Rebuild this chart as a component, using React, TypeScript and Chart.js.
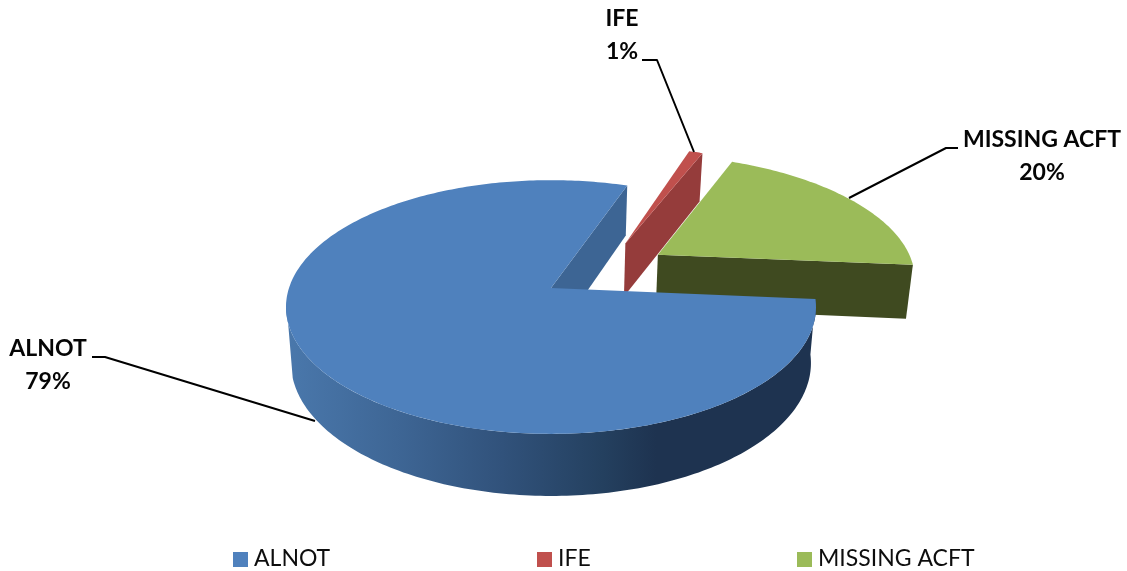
import React, { useEffect, useRef } from "react";
import { Chart, registerables } from "chart.js";

Chart.register(...registerables);

const categories = ["ALNOT", "IFE", "MISSING ACFT"];
const shares = [79, 1, 20];
const topColors = ["#4f81bd", "#c0504d", "#9bbb59"];
const wallColors = ["#3d6594", "#953c3b", "#3f4a20"];
const startRotation = 95;

// Perspective model of the tilted pie
const CX = 551;
const K = 0.15;
const TOP = { cy: 288, a: 262, b: 124 };
const BOTTOM = { cy: 343, a: 257, b: 130 };
// Explosion of each slice in unit-disc coordinates
const EXPLODE: [number, number][] = [[0, 0], [0.3, -0.379], [0.425, -0.28]];

type Plane = typeof TOP;
const project = (p: Plane, u: number, v: number): [number, number] => {
  const s = 1 / (1 - K * v);
  return [CX + p.a * u * s, p.cy + p.b * v * s];
};

const FONT = "Lato, 'Open Sans', sans-serif";
const LABELS = [
  { x: 48, y: 349, line: [[92, 357], [105, 357], [315, 421]] },
  { x: 622, y: 19, line: [[642, 60], [657, 60], [694, 152]] },
  { x: 1042, y: 140, line: [[958, 148], [946, 148], [849, 198]] },
];
const LEGEND_X = [233, 537, 797];

const pie3d = {
  id: "pie3d",
  beforeDatasetsDraw(chart: any) {
    const ctx: CanvasRenderingContext2D = chart.ctx;
    const arcs = chart.getDatasetMeta(0).data;
    const pt = (plane: Plane, i: number, a: number): [number, number] => {
      const [ox, oy] = EXPLODE[i];
      return project(plane, Math.cos(a) + ox, Math.sin(a) + oy);
    };
    const poly = (pts: [number, number][], color: string | CanvasGradient) => {
      ctx.beginPath();
      pts.forEach((p, n) => (n ? ctx.lineTo(p[0], p[1]) : ctx.moveTo(p[0], p[1])));
      ctx.closePath();
      ctx.fillStyle = color;
      ctx.fill();
    };
    const apex = (plane: Plane, i: number) => {
      const [ox, oy] = EXPLODE[i];
      return project(plane, ox, oy);
    };
    const topFace = (i: number) => {
      const { startAngle, endAngle } = arcs[i];
      const pts: [number, number][] = [apex(TOP, i)];
      const n = Math.max(8, Math.ceil((endAngle - startAngle) * 60));
      for (let k = 0; k <= n; k++) {
        pts.push(pt(TOP, i, startAngle + ((endAngle - startAngle) * k) / n));
      }
      poly(pts, topColors[i]);
    };
    const radialWall = (i: number, a: number) => {
      poly([apex(TOP, i), pt(TOP, i, a), pt(BOTTOM, i, a), apex(BOTTOM, i)], wallColors[i]);
    };

    // back to front: missing, IFE, ALNOT
    radialWall(2, arcs[2].endAngle);
    topFace(2);
    radialWall(1, arcs[1].endAngle);
    topFace(1);

    // ALNOT outer wall with its shading, closed along the left silhouette tangent
    const grad = ctx.createLinearGradient(285, 0, 815, 0);
    grad.addColorStop(0, "#4a78ac");
    grad.addColorStop(0.21, "#3e6695");
    grad.addColorStop(0.41, "#31527b");
    grad.addColorStop(0.6, "#24405f");
    grad.addColorStop(0.7, "#1e3350");
    grad.addColorStop(1, "#1e3350");
    const a0 = arcs[0].startAngle;
    const rim = (plane: Plane, end: number) => {
      const out: [number, number][] = [];
      for (let k = 0; k <= 160; k++) out.push(pt(plane, 0, a0 + ((end - a0) * k) / 160));
      return out;
    };
    const upper = rim(TOP, (174 * Math.PI) / 180);
    const lower = rim(BOTTOM, (165 * Math.PI) / 180);
    poly([...upper, ...lower.reverse()], grad);
    radialWall(0, arcs[0].endAngle);
    topFace(0);

    // leader lines and data labels
    ctx.strokeStyle = "#000";
    ctx.lineWidth = 2;
    ctx.lineJoin = "round";
    ctx.fillStyle = "#050505";
    ctx.textAlign = "center";
    ctx.textBaseline = "middle";
    ctx.font = `bold 23px ${FONT}`;
    LABELS.forEach((l, i) => {
      ctx.beginPath();
      l.line.forEach((p, n) => (n ? ctx.lineTo(p[0], p[1]) : ctx.moveTo(p[0], p[1])));
      ctx.stroke();
      ctx.fillText(categories[i], l.x, l.y);
      ctx.fillText(`${shares[i]}%`, l.x, l.y + 33);
    });

    // legend
    ctx.textAlign = "left";
    ctx.font = `23px ${FONT}`;
    categories.forEach((c, i) => {
      ctx.fillStyle = topColors[i];
      ctx.fillRect(LEGEND_X[i], 552, 15, 15);
      ctx.fillStyle = "#0d0d0d";
      ctx.fillText(c, LEGEND_X[i] + 21, 559);
    });
    return false;
  },
};

export default function App() {
  const ref = useRef<HTMLCanvasElement>(null);
  useEffect(() => {
    const chart = new Chart(ref.current!, {
      type: "pie",
      data: {
        labels: categories,
        datasets: [{ data: shares, backgroundColor: topColors, borderWidth: 0 }],
      },
      options: {
        responsive: false,
        animation: false,
        rotation: startRotation,
        plugins: { legend: { display: false }, tooltip: { enabled: false } },
      },
      plugins: [pie3d],
    });
    return () => chart.destroy();
  }, []);
  return (
    <canvas
      ref={ref}
      width={1127}
      height={571}
      style={{ position: "fixed", left: 0, top: 0, display: "block", background: "#fff" }}
    />
  );
}
